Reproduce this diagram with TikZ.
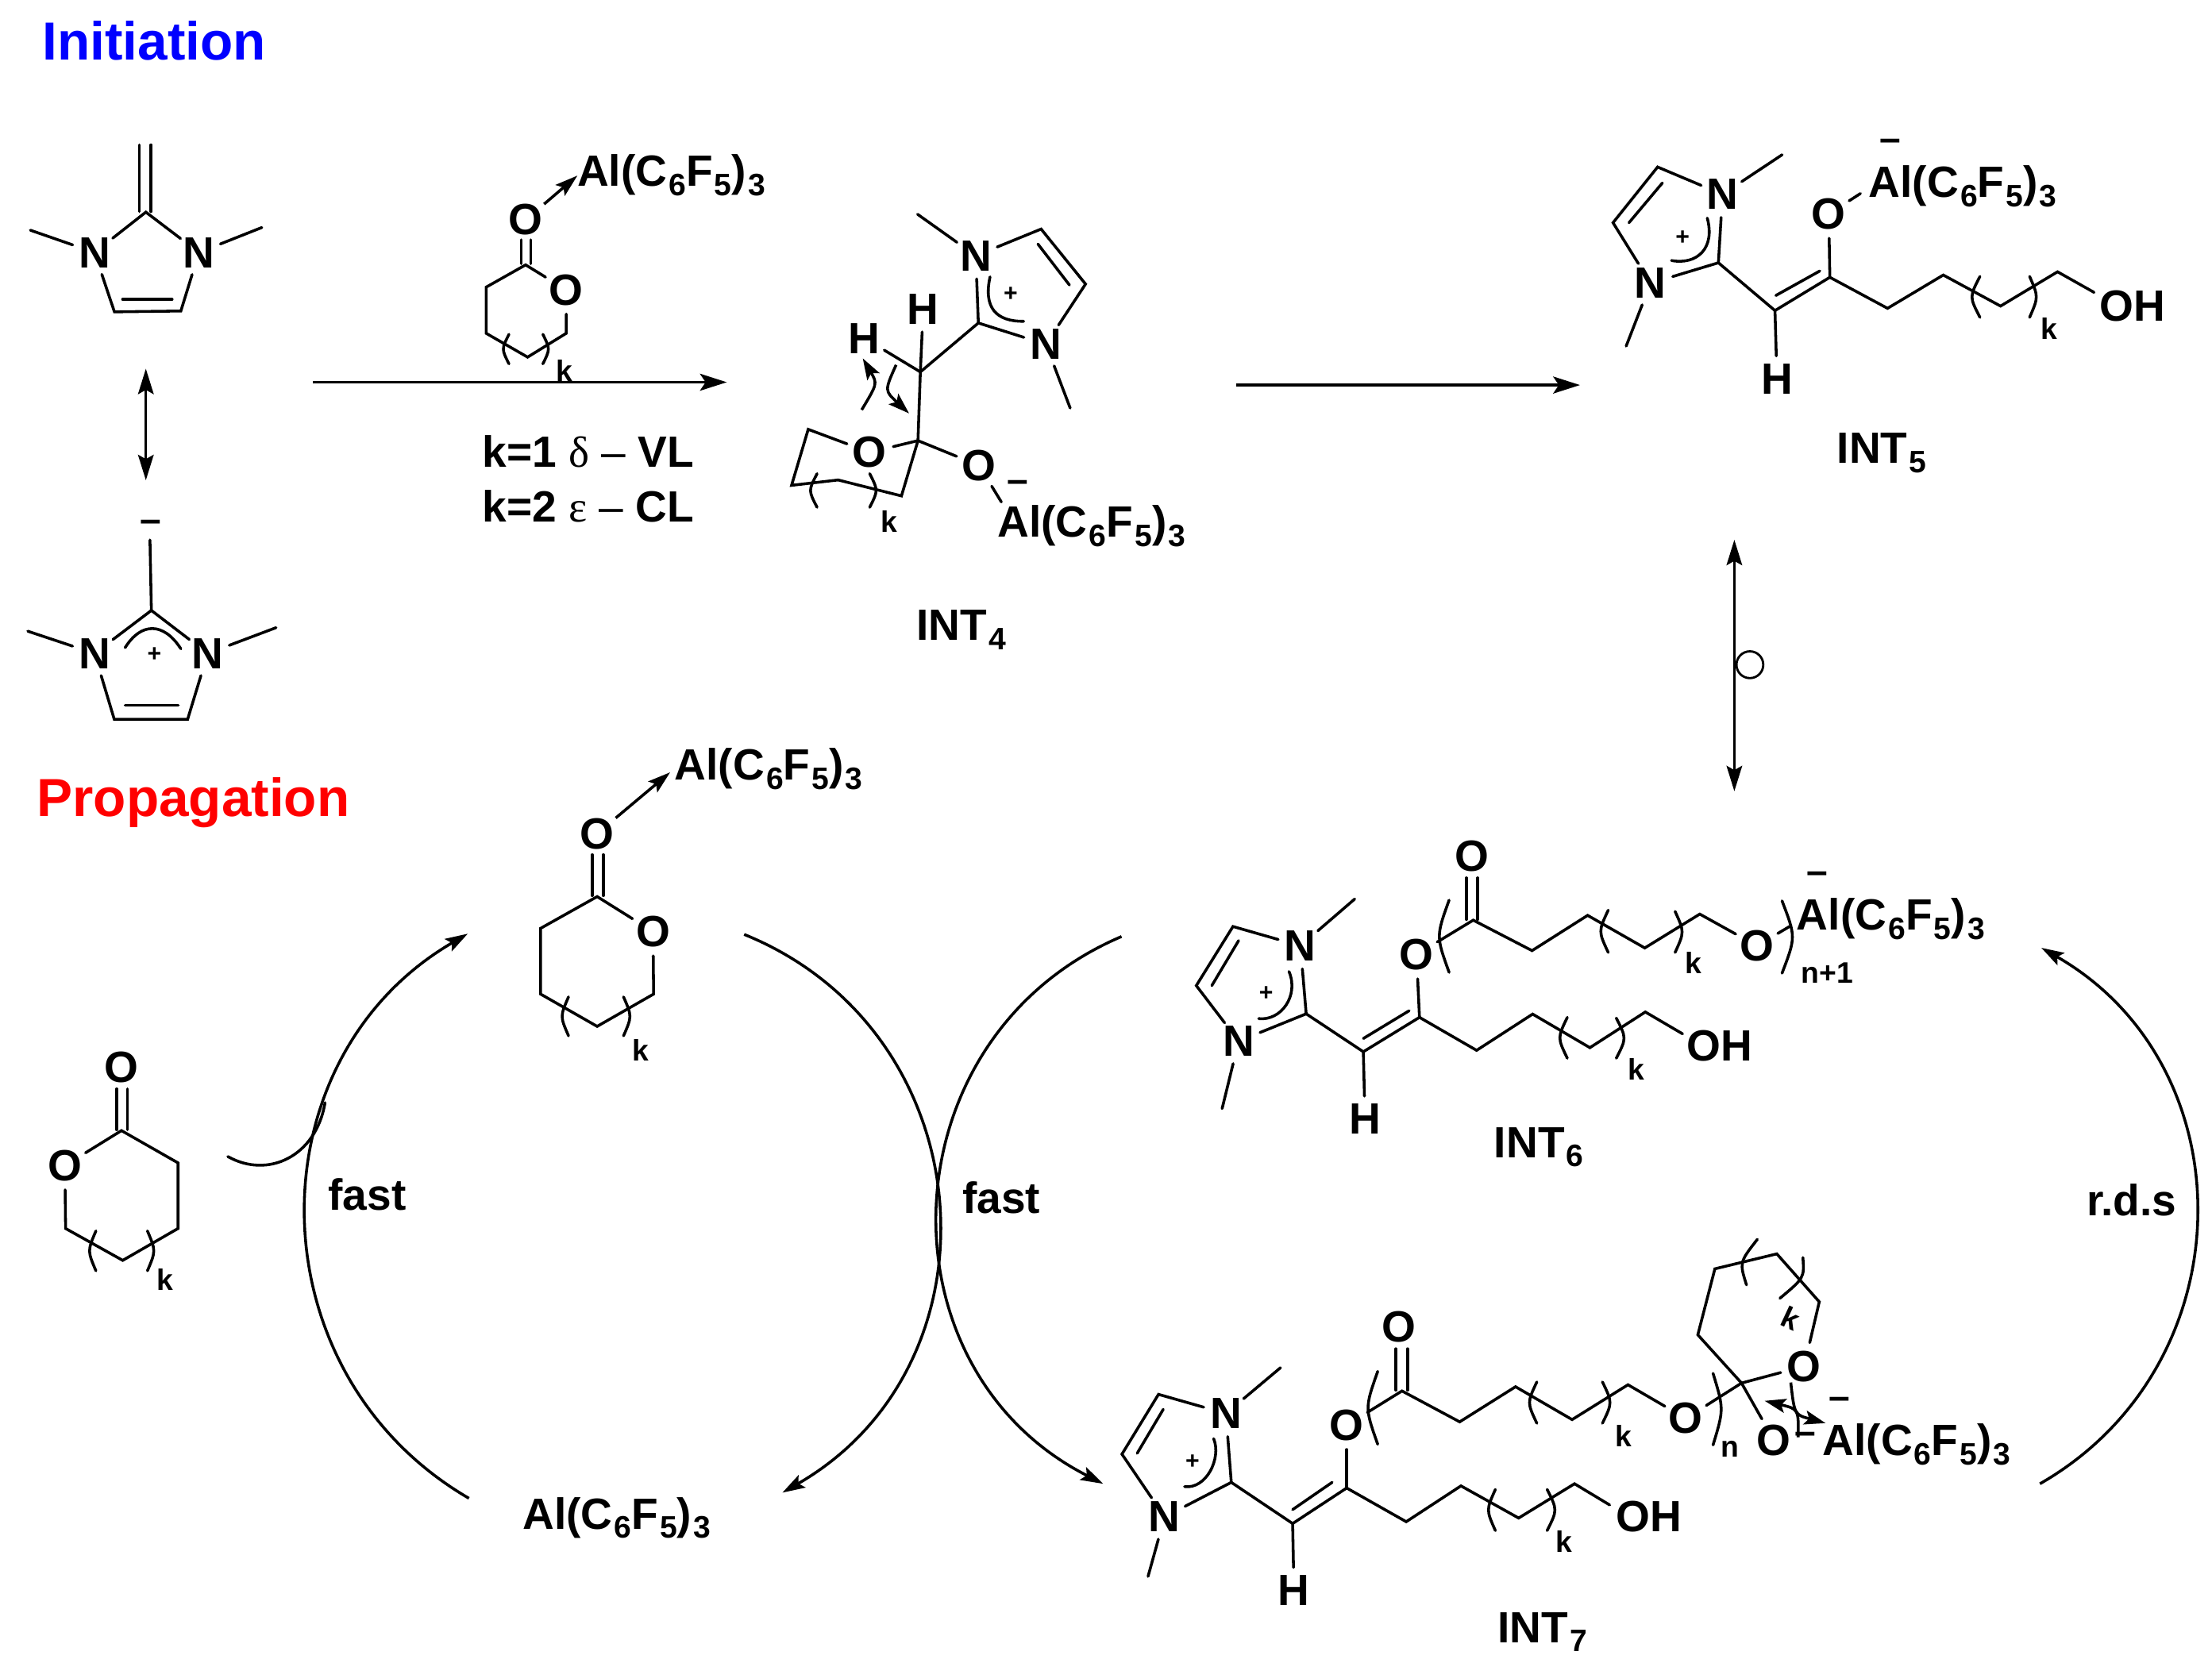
\documentclass[tikz,border=0pt]{standalone}
\usepackage{fontspec}
\setmainfont{Liberation Sans}
\newfontfamily\greekfont{Liberation Serif}
\usetikzlibrary{arrows.meta}
\newcommand\lowsub[1]{\kern1.2pt\raisebox{-6.5pt}{\fontsize{22}{22}\selectfont #1}}
\newcommand\alc{Al(C\lowsub{6}F\lowsub{5})\lowsub{3}}
\newcommand\pr[4]{\draw[bond] (#1,#2) .. controls (#3,{(#2+#4)/2}) .. (#1,#4);}
\tikzset{
  bond/.style={line width=2pt,line cap=round,line join=miter},
  bigtip/.style={-{Stealth[length=19pt,width=12pt,inset=4pt]},line width=2pt},
  dbltip/.style={{Stealth[length=18pt,width=11pt,inset=3pt]}-{Stealth[length=18pt,width=11pt,inset=3pt]},line width=2pt},
  arctip/.style={-{Stealth[length=16pt,width=10pt,inset=3pt]},line width=2pt},
  curvtip/.style={-{Stealth[length=15pt,width=10pt,inset=3pt]},line width=2pt},
  atom/.style={shape=circle,inner sep=0.5pt,font=\bfseries\fontsize{31}{31}\selectfont},
  lab/.style={inner sep=0pt,anchor=base west,font=\bfseries\fontsize{31}{31}\selectfont},
  kk/.style={inner sep=0pt,font=\bfseries\fontsize{21}{21}\selectfont},
  plus/.style={inner sep=0pt,font=\bfseries\fontsize{17}{17}\selectfont},
  minus/.style={inner sep=0pt,yshift=-3pt,font=\bfseries\fontsize{27}{27}\selectfont},
  head/.style={inner sep=0pt,anchor=base west,font=\bfseries\fontsize{38}{38}\selectfont},
}
\begin{document}
\begin{tikzpicture}[x=1pt,y=-1pt]
\useasboundingbox (0,0) rectangle (1568,1179);
% headings
\node[head,text={rgb,255:red,0;green,0;blue,255}] (hinit) at (30,42.5) {Initiation};
\node[head,text={rgb,255:red,255;green,0;blue,0}] (hprop) at (26,579) {Propagation};

% molecule A: top carbene
\coordinate (a2) at (103.4,150.4);
\node[atom] (an1) at (67,179) {N};
\node[atom] (an3) at (141,179) {N};
\coordinate (a4) at (128.2,220.5);
\coordinate (a5) at (81.1,221.1);
\coordinate (ame1) at (21.5,163.2);
\coordinate (ame3) at (185.6,161.3);
\draw[bond] (an1)--(a2)--(an3);
\draw[bond] (an1)--(a5)--(a4)--(an3);
\draw[bond] (86.9,212.3)--(122,212.3);
\draw[bond] (an1)--(ame1);
\draw[bond] (an3)--(ame3);
\draw[bond] (98.8,102.7)--(98.8,150);
\draw[bond] (107,102.7)--(107,150);
% resonance arrow
\coordinate (resa) at (103.4,261.4);
\coordinate (resb) at (103.4,340.5);
\draw[dbltip] (resa)--(resb);
% molecule B
\coordinate (b2) at (107.3,432.8);
\coordinate (btop) at (106.3,382.8);
\node[atom] (bn1) at (67,463.3) {N};
\node[atom] (bn3) at (147.2,463.3) {N};
\coordinate (b4) at (133,510);
\coordinate (b5) at (81,510);
\coordinate (bme1) at (19.7,447.5);
\coordinate (bme3) at (195.7,445);
\draw[bond] (bn1)--(b2)--(bn3);
\draw[bond] (b2)--(btop);
\draw[bond] (bn1)--(b5)--(b4)--(bn3);
\draw[bond] (88.7,500)--(126.4,500);
\draw[bond] (bn1)--(bme1);
\draw[bond] (bn3)--(bme3);
\draw[bond] (88.7,459.2) .. controls (100,441) and (116,441) .. (128.2,460);
\node[plus] (bplus) at (109.5,464) {+};
\node[minus] (bminus) at (107,370) {--};

% catalyst lactone over arrow 1
\node[atom] (co1) at (372.6,155.9) {O};
\node[atom] (co2) at (401.4,205.5) {O};
\coordinate (cc) at (372.6,187.8);
\coordinate (c3) at (344.6,203.6);
\coordinate (c4) at (344.6,236.3);
\coordinate (c5) at (374,253.2);
\coordinate (c6) at (401.4,236.3);
\draw[bond] (co2)--(cc)--(c3)--(c4)--(c5)--(c6)--(co2);
\draw[bond] (369.4,170)--(369.4,187);
\draw[bond] (376.2,170)--(376.2,187);
\node[lab] (cal) at (409,132) {\alc};
\coordinate (calin) at (409.3,124.5);
\draw[arctip] (co1)--(calin);
\pr{360.8}{237}{355.5}{258}
\pr{384.8}{237}{390}{258}
\node[kk] (ck) at (400.3,262.8) {k};
% arrow 1
\coordinate (r1a) at (221.9,271);
\coordinate (r1b) at (515.2,271);
\draw[bigtip] (r1a)--(r1b);
\node[lab] (k1) at (341.8,331) {k=1 {\greekfont\mdseries δ} {\mdseries --} VL};
\node[lab] (k2) at (341.8,370) {k=2 {\greekfont\mdseries ε} {\mdseries --} CL};

% INT4
\node[atom] (dn1) at (691.7,181.3) {N};
\node[atom] (dn3) at (741.4,244.1) {N};
\coordinate (dc4) at (769.5,201.4);
\coordinate (dc5) at (738,162.4);
\coordinate (dc2) at (693.5,229);
\coordinate (dch) at (652.4,263.7);
\coordinate (dq) at (650.7,312.4);
\coordinate (dme1) at (650.4,151.9);
\coordinate (dme3) at (758.6,289.3);
\node[atom] (dh1) at (654.4,219) {H};
\node[atom] (dh2) at (612.8,239.8) {H};
\node[atom] (doa) at (616.5,320.7) {O};
\node[atom] (dob) at (694,330) {O};
\coordinate (dr1) at (572.9,304.4);
\coordinate (dr2) at (561.1,344.1);
\coordinate (dr3) at (594.1,340.3);
\coordinate (dr4) at (639,351.6);
\node[lab] (dal) at (707,381) {\alc};
\coordinate (dalin) at (709.8,355.9);
\draw[bond] (dn1)--(dme1);
\draw[bond] (dn3)--(dme3);
\draw[bond] (dn1)--(dc5)--(dc4)--(dn3);
\draw[bond] (735.7,173)--(758.1,202.1);
\draw[bond] (dn1)--(dc2)--(dn3);
\draw[bond] (dc2)--(dch)--(dq);
\draw[bond] (dch)--(dh1);
\draw[bond] (dch)--(dh2);
\draw[bond] (doa)--(dq)--(dob);
\draw[bond] (doa)--(dr1)--(dr2)--(dr3)--(dr4)--(dq);
\draw[bond] (dob)--(dalin);
\draw[bond] (701.8,196.3) .. controls (697,218) and (706,228) .. (725.6,227.8);
\node[plus] (dplus) at (716.4,208.5) {+};
\node[minus] (dminus) at (721.3,342) {--};
\pr{579.2}{335.8}{573}{359.7}
\pr{616.5}{335.8}{622.5}{359.7}
\node[kk] (dk) at (630,369.7) {k};
\draw[curvtip] (610.8,290.6) .. controls (622,272) .. (611.6,254.1);
\draw[curvtip] (635.2,258.7) .. controls (627,277) .. (644.4,293.1);
\node[lab] (dlab) at (649.5,454) {INT\lowsub{4}};

% arrow 2
\coordinate (r2a) at (876.4,273);
\coordinate (r2b) at (1120,273);
\draw[bigtip] (r2a)--(r2b);

% INT5
\node[atom] (en1) at (1221,137.8) {N};
\node[atom] (en3) at (1170,200.8) {N};
\coordinate (ec5) at (1175,118.4);
\coordinate (ec4) at (1143.4,157.9);
\coordinate (ec2) at (1218.1,186.3);
\coordinate (ech) at (1258.2,220.2);
\coordinate (eco) at (1297.1,196.6);
\coordinate (ech1) at (1338,218.6);
\coordinate (ech2) at (1377.5,195);
\coordinate (ech3) at (1418.1,217);
\coordinate (ech4) at (1458.5,192.7);
\coordinate (eme1) at (1263.3,109.7);
\coordinate (eme3) at (1152.7,245.4);
\node[atom] (eh) at (1259.6,268.7) {H};
\node[atom] (eo) at (1296.3,151.7) {O};
\node[lab] (eal) at (1324.5,140) {\alc};
\coordinate (ealin) at (1318.8,137.2);
\node[lab] (eoh) at (1488,227.6) {OH};
\coordinate (eohin) at (1484.4,207.3);
\draw[bond] (en1)--(eme1);
\draw[bond] (en3)--(eme3);
\draw[bond] (en1)--(ec5)--(ec4)--(en3);
\draw[bond] (1178.4,129.7)--(1154.7,157.9);
\draw[bond] (en1)--(ec2)--(en3);
\draw[bond] (ec2)--(ech)--(eco)--(ech1)--(ech2)--(ech3)--(ech4)--(eohin);
\draw[bond] (1258.8,209.5)--(1290,192.1);
\draw[bond] (ech)--(eh);
\draw[bond] (eco)--(eo);
\draw[bond] (eo)--(ealin);
\draw[bond] (1210.2,154.6) .. controls (1216,176) and (1203,188) .. (1184.8,184.7);
\node[plus] (eplus) at (1192.7,168.5) {+};
\node[minus] (eminus) at (1340,99.7) {--};
\pr{1403.5}{196}{1396}{225}
\pr{1438.7}{196}{1445}{225}
\node[kk] (ek) at (1452.8,233.1) {k};
\node[lab] (elab) at (1302,328.5) {INT\lowsub{5}};

% equilibrium
\coordinate (eqa) at (1229.4,382.7);
\coordinate (eqb) at (1229.4,561);
\draw[dbltip] (eqa)--(eqb);
\node[draw,circle,line width=1.6pt,minimum size=19pt,inner sep=0pt] (eqc) at (1240.4,471.3) {};

% INT6
\node[atom] (fn1) at (921.8,670.6) {N};
\node[atom] (fn3) at (878,738.2) {N};
\coordinate (fc5) at (874,656.9);
\coordinate (fc4) at (848,698.8);
\coordinate (fc2) at (925.9,718.8);
\coordinate (fch) at (966.4,745.7);
\coordinate (fco) at (1006.2,721.3);
\coordinate (fme1) at (960.3,637.4);
\coordinate (fme3) at (866.3,786);
\node[atom] (fh) at (967.6,793.5) {H};
\node[atom] (fo) at (1004.1,676.8) {O};
\node[atom] (foc) at (1043.5,606.8) {O};
\coordinate (fcc) at (1044.3,652.4);
\coordinate (fu1) at (1086,674);
\coordinate (fu2) at (1125.4,649);
\coordinate (fu3) at (1165.9,672.1);
\coordinate (fu4) at (1204.9,648.1);
\node[atom] (fob) at (1245.4,670.6) {O};
\coordinate (fobout) at (1268.5,656.9);
\coordinate (fl1) at (1046.7,744.7);
\coordinate (fl2) at (1086.4,719);
\coordinate (fl3) at (1127,742.8);
\coordinate (fl4) at (1166.3,717.5);
\coordinate (fohin) at (1192.7,733);
\node[lab] (foh) at (1195.5,752.2) {OH};
\node[lab] (fal) at (1273.4,659.4) {\alc};
\draw[bond] (fn1)--(fme1);
\draw[bond] (fn3)--(fme3);
\draw[bond] (fn1)--(fc5)--(fc4)--(fn3);
\draw[bond] (878,666.9)--(859,698.8);
\draw[bond] (fn1)--(fc2)--(fn3);
\draw[bond] (fc2)--(fch)--(fco)--(fl1)--(fl2)--(fl3)--(fl4)--(fohin);
\draw[bond] (966.4,736.3)--(998.9,716.6);
\draw[bond] (fch)--(fh);
\draw[bond] (fco)--(fo);
\draw[bond] (fo)--(fcc)--(fu1)--(fu2)--(fu3)--(fu4)--(fob);
\draw[bond] (fob)--(fobout);
\draw[bond] (1039.4,622.4)--(1039.4,651.9);
\draw[bond] (1047.5,622.4)--(1047.5,651.9);
\draw[bond] (913.7,688.8) .. controls (921,706) and (908,724) .. (892.2,722.2);
\node[plus] (fplus) at (897.5,704.4) {+};
\node[minus] (fminus) at (1288,619.4) {--};
\pr{1027.2}{638.2}{1018}{689.4}
\pr{1263.2}{638.7}{1273}{690}
\pr{1140}{645.3}{1133}{675.3}
\pr{1187.4}{646.2}{1194}{675.3}
\pr{1111}{721.3}{1104}{750.3}
\pr{1145.7}{721.8}{1153}{750.3}
\node[kk] (fk1) at (1200.4,682.8) {k};
\node[kk] (fk2) at (1159.8,757.9) {k};
\node[kk,anchor=base west] (fn) at (1276.6,697) {n+1};
\node[lab] (flab) at (1059,820.7) {INT\lowsub{6}};

% INT7
\node[atom] (gn1) at (869,1002.2) {N};
\node[atom] (gn3) at (825.5,1075.5) {N};
\coordinate (gc5) at (821.2,988.6);
\coordinate (gc4) at (795.3,1031);
\coordinate (gc2) at (872.8,1051);
\coordinate (gch) at (916.3,1080.2);
\coordinate (gco) at (954.6,1055);
\coordinate (gme1) at (907.7,969.7);
\coordinate (gme3) at (813.8,1117.7);
\node[atom] (gh) at (917.2,1127.7) {H};
\node[atom] (go) at (954.6,1010.5) {O};
\node[atom] (goc) at (991.7,940.8) {O};
\coordinate (gcc) at (993.8,986.2);
\coordinate (gu1) at (1034.7,1008.1);
\coordinate (gu2) at (1074.3,983.2);
\coordinate (gu3) at (1114.4,1006.5);
\coordinate (gu4) at (1154,981.8);
\node[atom] (gob) at (1195,1005.7) {O};
\coordinate (gl1) at (996.8,1078.9);
\coordinate (gl2) at (1035.6,1053.5);
\coordinate (gl3) at (1076.5,1076.3);
\coordinate (gl4) at (1116.1,1052);
\coordinate (gohin) at (1141,1067);
\node[lab] (goh) at (1145.4,1085.8) {OH};
\coordinate (gq) at (1234.5,980.6);
\node[atom] (gor) at (1278.9,968.7) {O};
\node[atom] (gom) at (1257.4,1021) {O};
\coordinate (gr1) at (1203.5,946.4);
\coordinate (gr2) at (1215.6,899.6);
\coordinate (gr3) at (1259.5,889);
\coordinate (gr4) at (1289.6,923);
\node[lab] (gal) at (1291.8,1032) {\alc};
\draw[bond] (gn1)--(gme1);
\draw[bond] (gn3)--(gme3);
\draw[bond] (gn1)--(gc5)--(gc4)--(gn3);
\draw[bond] (824.6,999.2)--(806.1,1030.4);
\draw[bond] (gn1)--(gc2)--(gn3);
\draw[bond] (gc2)--(gch)--(gco)--(gl1)--(gl2)--(gl3)--(gl4)--(gohin);
\draw[bond] (916.3,1070.3)--(944.3,1051);
\draw[bond] (gch)--(gh);
\draw[bond] (gco)--(go);
\draw[bond] (go)--(gcc)--(gu1)--(gu2)--(gu3)--(gu4)--(gob);
\draw[bond] (989.5,956.3)--(989.5,985.6);
\draw[bond] (997.7,956.3)--(997.7,985.6);
\draw[bond] (gob)--(gq)--(gor);
\draw[bond] (gom)--(gq)--(gr1)--(gr2)--(gr3)--(gr4)--(gor);
\draw[bond] (860.3,1020) .. controls (866,1034) and (855,1056) .. (839.7,1054);
\node[plus] (gplus) at (845.3,1036.4) {+};
\node[minus] (gminus1) at (1280,1017) {--};
\node[minus] (gminus2) at (1304,991.8) {--};
\pr{976.6}{972.3}{967.5}{1024}
\pr{1214.3}{973.7}{1222}{1024.5}
\pr{1089.4}{979.8}{1082.5}{1009.1}
\pr{1135.9}{979.8}{1143}{1009.1}
\pr{1060}{1056}{1053.5}{1085.2}
\pr{1096.7}{1056}{1104}{1085.2}
\draw[bond] (1245.7,878.7) .. controls (1233,895) .. (1238,911);
\draw[bond] (1278,891.6) .. controls (1279,906) .. (1261.7,920.5);
\node[kk,rotate=-25] (gkr) at (1269.4,934.4) {k};
\node[kk] (gk1) at (1150.6,1018) {k};
\node[kk] (gk2) at (1108.8,1092.8) {k};
\node[kk,anchor=base] (gnn) at (1226.3,1033) {n};
\draw[curvtip] (1274.6,1019) .. controls (1275,999) .. (1250.9,993.2);
\draw[curvtip] (1269.4,980.2) .. controls (1272,1003) .. (1294,1009);
\node[lab] (glab) at (1061.4,1164.5) {INT\lowsub{7}};

% propagation lactone top
\node[atom] (ho1) at (423.3,591) {O};
\node[atom] (ho2) at (462.9,660.5) {O};
\coordinate (hc) at (423.3,635.7);
\coordinate (h3) at (383.2,658.2);
\coordinate (h4) at (383.2,704.8);
\coordinate (h5) at (423.3,727.7);
\coordinate (h6) at (463.3,704.8);
\draw[bond] (ho2)--(hc)--(h3)--(h4)--(h5)--(h6)--(ho2);
\draw[bond] (419.8,606)--(419.8,635);
\draw[bond] (427.6,606)--(427.6,635);
\node[lab] (hal) at (478,553) {\alc};
\coordinate (halin) at (475,547.6);
\draw[arctip] (ho1)--(halin);
\pr{403}{706.8}{397}{734.4}
\pr{442}{706.8}{448}{734.4}
\node[kk] (hk) at (454.3,744.3) {k};

% propagation lactone left
\node[atom] (jo1) at (86.1,756.9) {O};
\node[atom] (jo2) at (46,826.4) {O};
\coordinate (jc) at (86.1,801.6);
\coordinate (j3) at (126.2,824.5);
\coordinate (j4) at (126.2,871);
\coordinate (j5) at (87,893.6);
\coordinate (j6) at (46.5,871);
\draw[bond] (jo2)--(jc)--(j3)--(j4)--(j5)--(j6)--(jo2);
\draw[bond] (82.7,772)--(82.7,801);
\draw[bond] (90.4,772)--(90.4,801);
\pr{68}{872.7}{62}{901}
\pr{104.5}{872.7}{110.5}{901}
\node[kk] (jk) at (117.1,907.4) {k};

% bottom catalyst
\node[lab] (kal) at (370.3,1084) {\alc};

% cycle arcs
\coordinate (l0) at (332.4,1062.3);
\coordinate (l1) at (331.6,662);
\draw[arctip] (l0) .. controls (179.1,973) and (178.3,751.3) .. (l1);
\coordinate (m0) at (527.5,662.5);
\coordinate (m1) at (554.6,1058.3);
\draw[arctip] (m0) .. controls (697.9,731.6) and (714,966.6) .. (m1);
\coordinate (n0) at (795,664);
\coordinate (n1) at (782,1052);
\draw[arctip] (n0) .. controls (627.8,735.2) and (620,969.7) .. (n1);
\coordinate (p0) at (1446,1052);
\coordinate (p1) at (1447,672);
\draw[arctip] (p0) .. controls (1592.8,967.9) and (1593.8,756.1) .. (p1);
\coordinate (q0) at (161.5,820);
\coordinate (q1) at (230.4,781.8);
\draw[bond] (q0) .. controls (190,836) and (224,820) .. (q1);
\node[lab] (fast1) at (232.5,858) {fast};
\node[lab] (fast2) at (682,860) {fast};
\node[lab] (rds) at (1479,862) {r.d.s};
\end{tikzpicture}
\end{document}
